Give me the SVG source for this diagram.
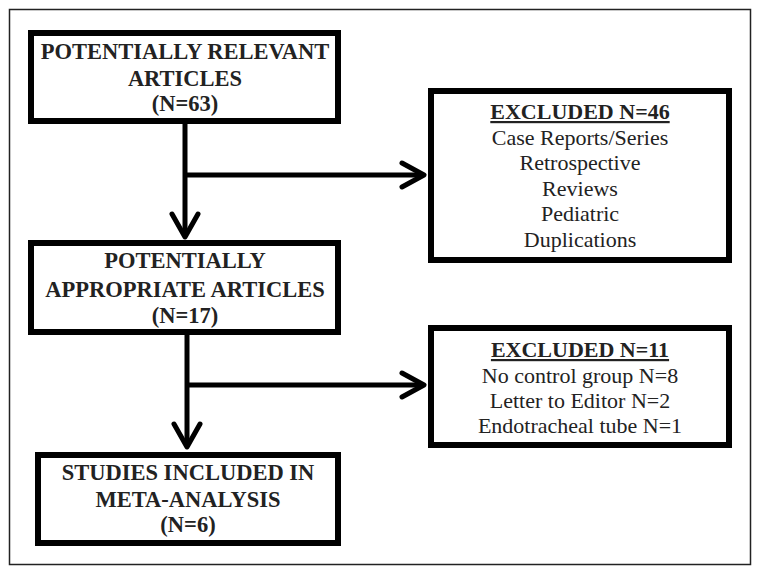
<svg xmlns="http://www.w3.org/2000/svg" width="761" height="576" viewBox="0 0 761 576">
<style>
.box{fill:#fff;stroke:#000;stroke-width:6}
.t{font-family:"Liberation Serif","Times New Roman",serif;font-size:22.5px;font-weight:bold;text-anchor:middle;fill:#222}
.e{font-family:"Liberation Serif","Times New Roman",serif;font-size:22px;text-anchor:middle;fill:#222}
.h{font-weight:bold;text-decoration:underline}
.ln{fill:none;stroke:#000;stroke-width:5}
.hd{fill:none;stroke:#000;stroke-width:5;stroke-linecap:round;stroke-linejoin:round}
</style>
<rect x="0" y="0" width="761" height="576" fill="#fff"/>
<rect x="9.5" y="9.5" width="741" height="555" fill="none" stroke="#222" stroke-width="1.5"/>
<g id="connectors">
<line class="ln" x1="185" y1="123" x2="185" y2="236"/>
<line class="ln" x1="185" y1="175" x2="423" y2="175"/>
<polyline class="hd" points="172,214 185,237 198,214"/>
<polyline class="hd" points="402,163 424,175 402,187"/>
<line class="ln" x1="187" y1="335" x2="187" y2="446"/>
<line class="ln" x1="187" y1="385" x2="423" y2="385"/>
<polyline class="hd" points="174,424 187,447 200,424"/>
<polyline class="hd" points="402,373 424,385 402,397"/>
</g>
<g id="n1">
<rect class="box" x="31" y="33" width="307" height="88"/>
<text class="t" x="185" y="59">POTENTIALLY RELEVANT</text>
<text class="t" x="185" y="86">ARTICLES</text>
<text class="t" x="185" y="111">(N=63)</text>
</g>
<g id="n2">
<rect class="box" x="431" y="91" width="298" height="169"/>
<text class="e h" x="580" y="119">EXCLUDED N=46</text>
<text class="e" x="580" y="145">Case Reports/Series</text>
<text class="e" x="580" y="170">Retrospective</text>
<text class="e" x="580" y="196">Reviews</text>
<text class="e" x="580" y="221">Pediatric</text>
<text class="e" x="580" y="247">Duplications</text>
</g>
<g id="n3">
<rect class="box" x="31" y="243" width="307" height="89"/>
<text class="t" x="185" y="268">POTENTIALLY</text>
<text class="t" x="185" y="297">APPROPRIATE ARTICLES</text>
<text class="t" x="185" y="323">(N=17)</text>
</g>
<g id="n4">
<rect class="box" x="431" y="328" width="298" height="117"/>
<text class="e h" x="580" y="357">EXCLUDED N=11</text>
<text class="e" x="580" y="383">No control group N=8</text>
<text class="e" x="580" y="408">Letter to Editor N=2</text>
<text class="e" x="580" y="433">Endotracheal tube N=1</text>
</g>
<g id="n5">
<rect class="box" x="38" y="455" width="300" height="88"/>
<text class="t" x="188" y="480">STUDIES INCLUDED IN</text>
<text class="t" x="188" y="507">META-ANALYSIS</text>
<text class="t" x="188" y="532">(N=6)</text>
</g>
</svg>
